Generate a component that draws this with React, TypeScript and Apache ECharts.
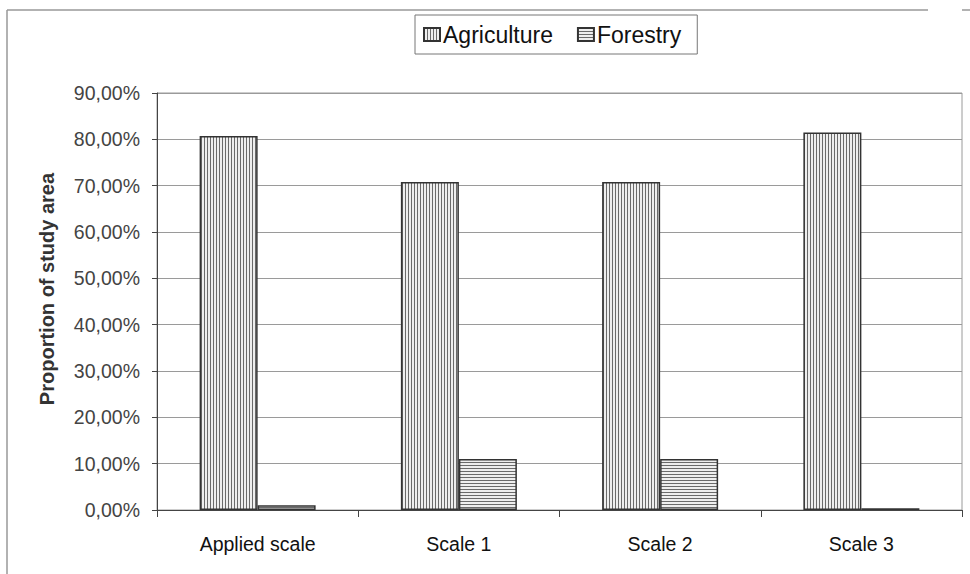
import React, { useEffect, useRef } from "react";
import * as echarts from "echarts";

const categories = ["Applied scale", "Scale 1", "Scale 2", "Scale 3"];
const agriculture = [80.7, 70.8, 70.8, 81.5];
const forestry = [1.0, 11.0, 11.0, 0.4];
const seriesNames = ["Agriculture", "Forestry"];
const yTicks = { min: 0, max: 90, interval: 10 };
const yAxisTitle = "Proportion of study area";

const FONT = "'Liberation Sans', Arial, sans-serif";

function makePattern(vertical: boolean) {
  const c = document.createElement("canvas");
  c.width = 3;
  c.height = 3;
  const ctx = c.getContext("2d")!;
  ctx.fillStyle = "#eeeeee";
  ctx.fillRect(0, 0, 3, 3);
  ctx.fillStyle = "#6a6a6a";
  if (vertical) ctx.fillRect(0, 0, 1, 3);
  else ctx.fillRect(0, 0, 3, 1);
  return { image: c, repeat: "repeat" } as any;
}

export default function App() {
  const ref = useRef<HTMLDivElement>(null);
  useEffect(() => {
    if (!ref.current) return;
    const chart = echarts.init(ref.current, null, { renderer: "svg" });
    const fmt = (v: number) => v.toFixed(2).replace(".", ",") + "%";
    chart.setOption({
      animation: false,
      backgroundColor: "#ffffff",
      textStyle: { fontFamily: FONT },
      legend: {
        left: 415,
        top: 15,
        padding: [8, 16, 8, 8],
        itemWidth: 16,
        itemHeight: 13,
        itemGap: 24,
        icon: "rect",
        borderColor: "#777",
        borderWidth: 1,
        textStyle: { fontSize: 23, color: "#111", fontFamily: FONT, padding: [0, 0, 0, -2] },
        data: seriesNames,
      },
      grid: {
        left: 157,
        right: 8,
        top: 93,
        bottom: 64,
        show: true,
        borderColor: "#9a9a9a",
        borderWidth: 1,
      },
      xAxis: {
        type: "category",
        data: categories,
        axisLine: { lineStyle: { color: "#444", width: 1 } },
        axisTick: { show: true, length: 7, lineStyle: { color: "#444" } },
        axisLabel: { fontSize: 19.5, color: "#111", margin: 24, fontFamily: FONT },
        splitLine: { show: false },
      },
      yAxis: {
        type: "value",
        min: yTicks.min,
        max: yTicks.max,
        interval: yTicks.interval,
        axisLine: { show: true, lineStyle: { color: "#444", width: 1 } },
        axisTick: { show: true, length: 5, lineStyle: { color: "#444" } },
        axisLabel: { fontSize: 19.5, color: "#444", margin: 17, formatter: fmt, fontFamily: FONT },
        splitLine: { show: true, lineStyle: { color: "#9a9a9a", width: 1 } },
      },
      graphic: [
        {
          type: "line",
          shape: { x1: 7, y1: 10, x2: 928, y2: 10 },
          style: { stroke: "#999", lineWidth: 1.5 },
        },
        {
          type: "line",
          shape: { x1: 962, y1: 10, x2: 970, y2: 10 },
          style: { stroke: "#999", lineWidth: 1.5 },
        },
        {
          type: "line",
          shape: { x1: 7, y1: 10, x2: 7, y2: 574 },
          style: { stroke: "#999", lineWidth: 1.5 },
        },
        {
          type: "text",
          x: 47,
          y: 289,
          rotation: Math.PI / 2,
          style: {
            text: yAxisTitle,
            fill: "#333",
            font: "bold 20px " + FONT,
            textAlign: "center",
            textVerticalAlign: "middle",
          },
        },
      ],
      series: [
        {
          name: seriesNames[0],
          type: "bar",
          data: agriculture,
          barWidth: 58,
          barGap: "0%",
          itemStyle: { color: makePattern(true), borderColor: "#333", borderWidth: 1.5 },
        },
        {
          name: seriesNames[1],
          type: "bar",
          data: forestry,
          barWidth: 58,
          barGap: "0%",
          itemStyle: { color: makePattern(false), borderColor: "#333", borderWidth: 1.5 },
        },
      ],
    });
    return () => chart.dispose();
  }, []);
  return (
    <div
      ref={ref}
      style={{ position: "absolute", left: 0, top: 0, width: 970, height: 574 }}
    />
  );
}
